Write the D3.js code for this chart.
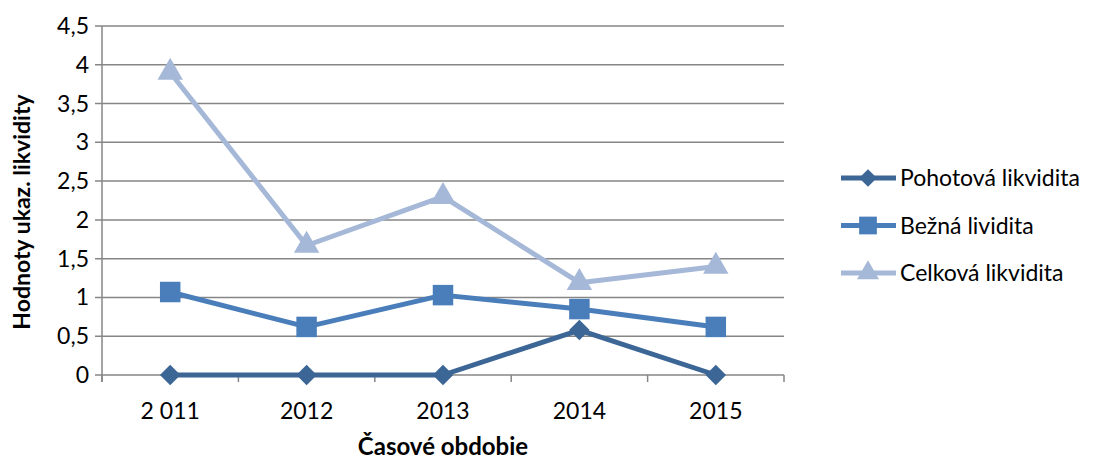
<!DOCTYPE html>
<html>
<head>
<meta charset="utf-8">
<script src="https://cdn.jsdelivr.net/npm/d3@7"></script>
<style>
  body { margin: 0; background: #fff; }
  svg { font-family: Lato, "Open Sans", sans-serif; }
</style>
</head>
<body>
<svg id="chart" width="1097" height="461"></svg>
<script>
// data
const years = ["2 011", "2012", "2013", "2014", "2015"];
const pohotova = [0, 0, 0, 0.58, 0];
const bezna = [1.07, 0.62, 1.03, 0.85, 0.62];
const celkova = [3.9, 1.67, 2.3, 1.19, 1.4];
const yTicks = [0, 0.5, 1, 1.5, 2, 2.5, 3, 3.5, 4, 4.5];

const series = [
  { name: "Pohotová likvidita", values: pohotova, color: "#3C6696", symbol: d3.symbolSquare, rot: 45, size: 210 },
  { name: "Bežná lividita", values: bezna, color: "#4A7EBB", symbol: d3.symbolSquare, rot: 0, size: 420 },
  { name: "Celková likvidita", values: celkova, color: "#A5B8D7", symbol: d3.symbolTriangle, rot: 0, size: 280 }
];

const svg = d3.select("#chart");
const m = { left: 102, right: 784, top: 26, bottom: 375 };

const x = d3.scaleBand().domain(years).range([m.left, m.right]);
const y = d3.scaleLinear().domain([0, 4.5]).range([m.bottom, m.top]);

// gridlines
svg.append("g").selectAll("line").data(yTicks).join("line")
  .attr("x1", m.left - 7).attr("x2", m.right)
  .attr("y1", d => y(d)).attr("y2", d => y(d))
  .attr("stroke", "#868686").attr("stroke-width", 1.5);

// y axis line
svg.append("line")
  .attr("x1", m.left).attr("x2", m.left)
  .attr("y1", m.top).attr("y2", m.bottom + 7)
  .attr("stroke", "#868686").attr("stroke-width", 1.5);

// x axis ticks at category boundaries
const bounds = years.map(d => x(d)).concat([m.right]);
svg.append("g").selectAll("line").data(bounds).join("line")
  .attr("x1", d => d).attr("x2", d => d)
  .attr("y1", m.bottom).attr("y2", m.bottom + 7)
  .attr("stroke", "#868686").attr("stroke-width", 1.5);

// y tick labels
svg.append("g").selectAll("text").data(yTicks).join("text")
  .attr("x", m.left - 13).attr("y", d => y(d))
  .attr("dy", "0.35em").attr("text-anchor", "end")
  .attr("font-size", 23).attr("fill", "#000")
  .text(d => String(d).replace(".", ","));

// x tick labels
svg.append("g").selectAll("text").data(years).join("text")
  .attr("x", d => x(d) + x.bandwidth() / 2).attr("y", 411)
  .attr("dy", "0.35em").attr("text-anchor", "middle")
  .attr("font-size", 23).attr("fill", "#000")
  .text(d => d);

// axis titles
svg.append("text")
  .attr("transform", "translate(22,212) rotate(-90)")
  .attr("text-anchor", "middle").attr("dy", "0.35em")
  .attr("font-size", 23).attr("font-weight", "bold")
  .text("Hodnoty ukaz. likvidity");

svg.append("text")
  .attr("x", 443).attr("y", 447).attr("dy", "0.35em")
  .attr("text-anchor", "middle")
  .attr("font-size", 24).attr("font-weight", "bold")
  .text("Časové obdobie");

// lines and markers
const line = d3.line()
  .x((d, i) => x(years[i]) + x.bandwidth() / 2)
  .y(d => y(d));

series.slice().reverse().forEach(s => {
  const g = svg.append("g");
  g.append("path")
    .attr("d", line(s.values))
    .attr("fill", "none").attr("stroke", s.color)
    .attr("stroke-width", 5).attr("stroke-linejoin", "round");
  g.selectAll("path.m").data(s.values).join("path")
    .attr("class", "m")
    .attr("transform", (d, i) => `translate(${x(years[i]) + x.bandwidth() / 2},${y(d)}) rotate(${s.rot})`)
    .attr("d", d3.symbol().type(s.symbol).size(s.size))
    .attr("fill", s.color);
});

// legend
const legend = svg.append("g");
series.forEach((s, i) => {
  const ly = 178 + i * 47.5;
  legend.append("line")
    .attr("x1", 841).attr("x2", 896)
    .attr("y1", ly).attr("y2", ly)
    .attr("stroke", s.color).attr("stroke-width", 5);
  legend.append("path")
    .attr("transform", `translate(868,${ly}) rotate(${s.rot})`)
    .attr("d", d3.symbol().type(s.symbol).size(s.size * 0.75))
    .attr("fill", s.color);
  legend.append("text")
    .attr("x", 900).attr("y", ly).attr("dy", "0.35em")
    .attr("font-size", 23).attr("fill", "#000")
    .text(s.name);
});
</script>
</body>
</html>
